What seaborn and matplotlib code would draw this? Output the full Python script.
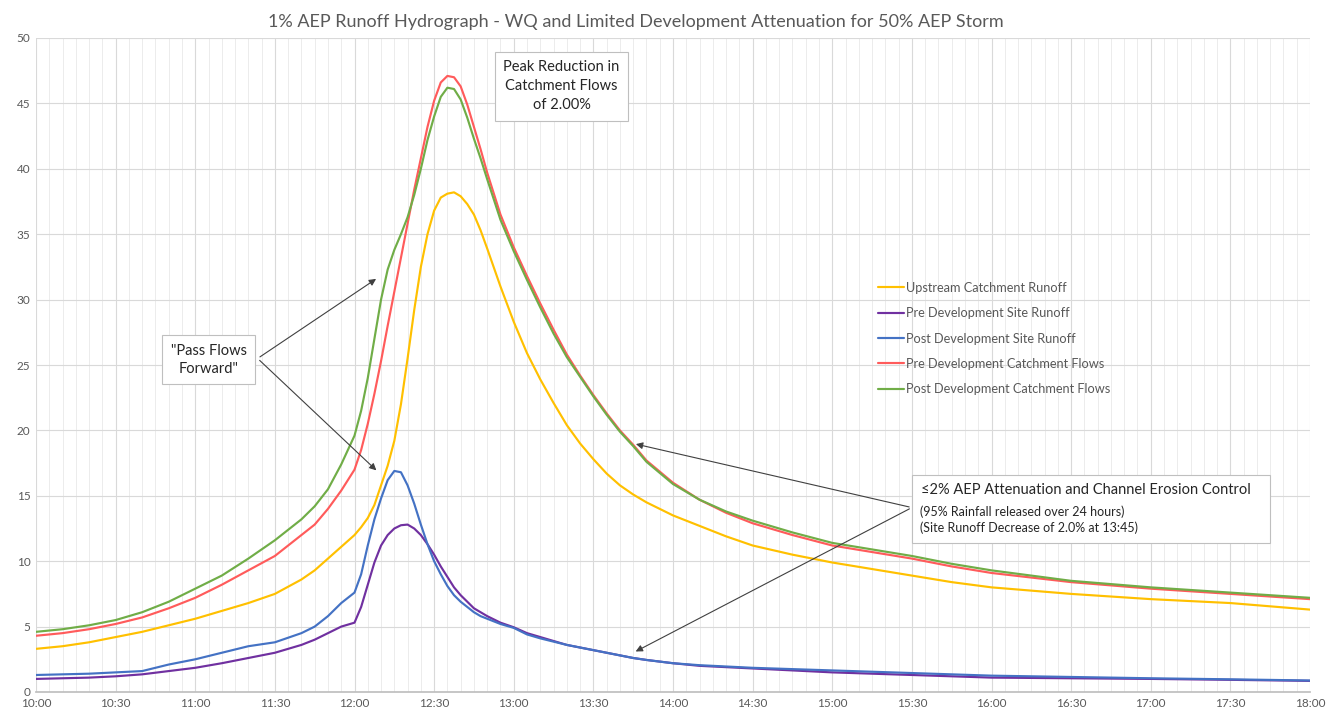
import numpy as np
import pandas as pd
import matplotlib
matplotlib.use("Agg")
import matplotlib.pyplot as plt
import seaborn as sns

# minutes after 10:00
minutes = [0, 10, 20, 30, 40, 50, 60, 70, 80, 90, 100, 105, 110, 115,
           120, 122.5, 125, 127.5, 130, 132.5, 135, 137.5, 140, 142.5, 145, 147.5,
           150, 152.5, 155, 157.5, 160, 162.5, 165, 167.5, 170,
           175, 180, 185, 190, 195, 200, 205, 210, 215, 220, 225, 230,
           240, 250, 260, 270, 285, 300, 315, 330, 345, 360, 390, 420, 450, 480]

upstream = [3.3, 3.5, 3.8, 4.2, 4.6, 5.1, 5.6, 6.2, 6.8, 7.5, 8.6, 9.3, 10.2, 11.1,
            12.0, 12.6, 13.3, 14.3, 15.8, 17.3, 19.2, 22.0, 25.5, 29.2, 32.5, 35.0,
            36.8, 37.8, 38.1, 38.2, 37.9, 37.3, 36.5, 35.3, 33.9,
            31.0, 28.3, 25.9, 23.9, 22.1, 20.4, 19.0, 17.8, 16.7, 15.8, 15.1, 14.5,
            13.5, 12.7, 11.9, 11.2, 10.5, 9.9, 9.4, 8.9, 8.4, 8.0, 7.5, 7.1, 6.8, 6.3]

pre_site = [1.0, 1.05, 1.1, 1.2, 1.35, 1.6, 1.85, 2.2, 2.6, 3.0, 3.6, 4.0, 4.5, 5.0,
            5.3, 6.5, 8.2, 9.9, 11.2, 12.0, 12.5, 12.75, 12.8, 12.5, 12.0, 11.3,
            10.5, 9.6, 8.8, 8.0, 7.4, 6.9, 6.4, 6.1, 5.8,
            5.3, 4.95, 4.5, 4.2, 3.9, 3.6, 3.4, 3.2, 3.0, 2.8, 2.6, 2.45,
            2.2, 2.0, 1.9, 1.8, 1.65, 1.5, 1.4, 1.3, 1.2, 1.1, 1.05, 1.0, 0.93, 0.85]

post_site = [1.3, 1.35, 1.4, 1.5, 1.6, 2.1, 2.5, 3.0, 3.5, 3.8, 4.5, 5.0, 5.8, 6.8,
             7.6, 9.0, 11.2, 13.2, 14.8, 16.2, 16.9, 16.8, 15.8, 14.4, 12.8, 11.3,
             10.0, 9.0, 8.1, 7.4, 6.9, 6.5, 6.1, 5.8, 5.6,
             5.2, 4.9, 4.4, 4.1, 3.85, 3.6, 3.4, 3.2, 3.0, 2.8, 2.6, 2.45,
             2.2, 2.05, 1.95, 1.85, 1.75, 1.65, 1.55, 1.45, 1.35, 1.25, 1.15, 1.05, 0.97, 0.88]

pre_catch = [4.3, 4.5, 4.8, 5.2, 5.7, 6.4, 7.2, 8.2, 9.3, 10.4, 12.0, 12.8, 14.0, 15.4,
             17.0, 18.5, 20.5, 22.8, 25.3, 28.0, 30.6, 33.2, 35.8, 38.4, 40.8, 43.2,
             45.2, 46.6, 47.1, 47.0, 46.3, 44.9, 43.2, 41.5, 39.7,
             36.5, 34.0, 31.8, 29.7, 27.7, 25.8, 24.2, 22.7, 21.3, 20.0, 18.9, 17.7,
             16.0, 14.7, 13.7, 12.9, 12.0, 11.2, 10.7, 10.2, 9.6, 9.1, 8.4, 7.9, 7.5, 7.1]

post_catch = [4.6, 4.8, 5.1, 5.5, 6.1, 6.9, 7.9, 8.9, 10.2, 11.6, 13.2, 14.2, 15.5, 17.4,
              19.6, 21.5, 24.0, 27.0, 30.0, 32.3, 33.8, 35.0, 36.3, 38.0, 40.0, 42.2,
              44.0, 45.5, 46.2, 46.1, 45.3, 43.9, 42.3, 40.8, 39.2,
              36.1, 33.7, 31.5, 29.4, 27.4, 25.6, 24.1, 22.6, 21.2, 19.9, 18.8, 17.6,
              15.9, 14.7, 13.8, 13.1, 12.2, 11.4, 10.9, 10.4, 9.8, 9.3, 8.5, 8.0, 7.6, 7.2]

series_names = ["Upstream Catchment Runoff", "Pre Development Site Runoff",
                "Post Development Site Runoff", "Pre Development Catchment Flows",
                "Post Development Catchment Flows"]
series_colors = ["#FFC000", "#7030A0", "#4472C4", "#FF5B5B", "#70AD47"]

tick_minutes = list(range(0, 481, 30))
tick_labels = ["10:00", "10:30", "11:00", "11:30", "12:00", "12:30", "13:00", "13:30",
               "14:00", "14:30", "15:00", "15:30", "16:00", "16:30", "17:00", "17:30", "18:00"]

df = pd.concat([
    pd.DataFrame({"minutes": minutes, "flow": vals, "series": name})
    for name, vals in zip(series_names, [upstream, pre_site, post_site, pre_catch, post_catch])
])

sns.set_theme(style="white")
plt.rcParams["font.family"] = ["Lato", "DejaVu Sans"]

fig = plt.figure(figsize=(13.38, 7.15), dpi=100)
ax = fig.add_axes([36 / 1338, 1 - 692 / 715, 1274 / 1338, 654 / 715])

sns.lineplot(data=df, x="minutes", y="flow", hue="series", hue_order=series_names,
             palette=dict(zip(series_names, series_colors)), linewidth=1.55, ax=ax)

ax.set_xlim(0, 480)
ax.set_ylim(0, 50)
ax.set_xticks(tick_minutes)
ax.set_xticklabels(tick_labels)
ax.set_xticks(range(0, 481, 5), minor=True)
ax.set_yticks(range(0, 51, 5))
ax.grid(True, which="major", color="#d9d9d9", linewidth=0.8)
ax.grid(True, which="minor", axis="x", color="#ececec", linewidth=0.7)
ax.tick_params(axis="both", which="both", length=0, labelsize=8.5, colors="#595959", pad=4)
ax.set_xlabel("")
ax.set_ylabel("")
for side in ["top", "left", "right"]:
    ax.spines[side].set_visible(False)
ax.spines["bottom"].set_color("#bfbfbf")

ax.set_title("1% AEP Runoff Hydrograph - WQ and Limited Development Attenuation for 50% AEP Storm",
             fontsize=13, color="#595959", pad=8, x=0.471)

leg = ax.legend(loc="upper left", bbox_to_anchor=(0.652, 0.645), frameon=False, fontsize=9.2,
                labelspacing=1.05, handlelength=2.0, handletextpad=0.2)
for txt in leg.get_texts():
    txt.set_color("#595959")

box = dict(boxstyle="square,pad=0.6", facecolor="white", edgecolor="#bfbfbf", linewidth=0.8)
arrow = dict(arrowstyle="-|>", color="#404040", linewidth=0.8, mutation_scale=10)

ax.text(198, 46.3, "Peak Reduction in\nCatchment Flows\nof 2.00%", ha="center", va="center",
        fontsize=10.5, color="#262626", bbox=box, linespacing=1.45)

ax.text(65, 25.4, "\"Pass Flows\nForward\"", ha="center", va="center",
        fontsize=10.5, color="#262626", bbox=dict(boxstyle="square,pad=0.6", facecolor="white",
                                                   edgecolor="#bfbfbf", linewidth=0.8),
        linespacing=1.35)
ax.annotate("", xy=(129, 31.7), xytext=(83.5, 25.5), arrowprops=arrow)
ax.annotate("", xy=(129, 16.8), xytext=(83.5, 25.5), arrowprops=arrow)

ax.add_patch(plt.Rectangle((330, 11.4), 134.9, 5.2, facecolor="white", edgecolor="#bfbfbf",
                           linewidth=0.8, zorder=4))
ax.text(333.5, 15.45, "≤2% AEP Attenuation and Channel Erosion Control", ha="left", va="center",
        fontsize=10.5, color="#262626", zorder=5)
ax.text(333, 13.8, "(95% Rainfall released over 24 hours)", ha="left", va="center",
        fontsize=9, color="#262626", zorder=5)
ax.text(333, 12.55, "(Site Runoff Decrease of 2.0% at 13:45)", ha="left", va="center",
        fontsize=9, color="#262626", zorder=5)
ax.annotate("", xy=(225, 19.0), xytext=(330, 14.1), arrowprops=arrow)
ax.annotate("", xy=(225, 3.0), xytext=(330, 14.1), arrowprops=arrow)

fig.savefig("out.png", dpi=100)
